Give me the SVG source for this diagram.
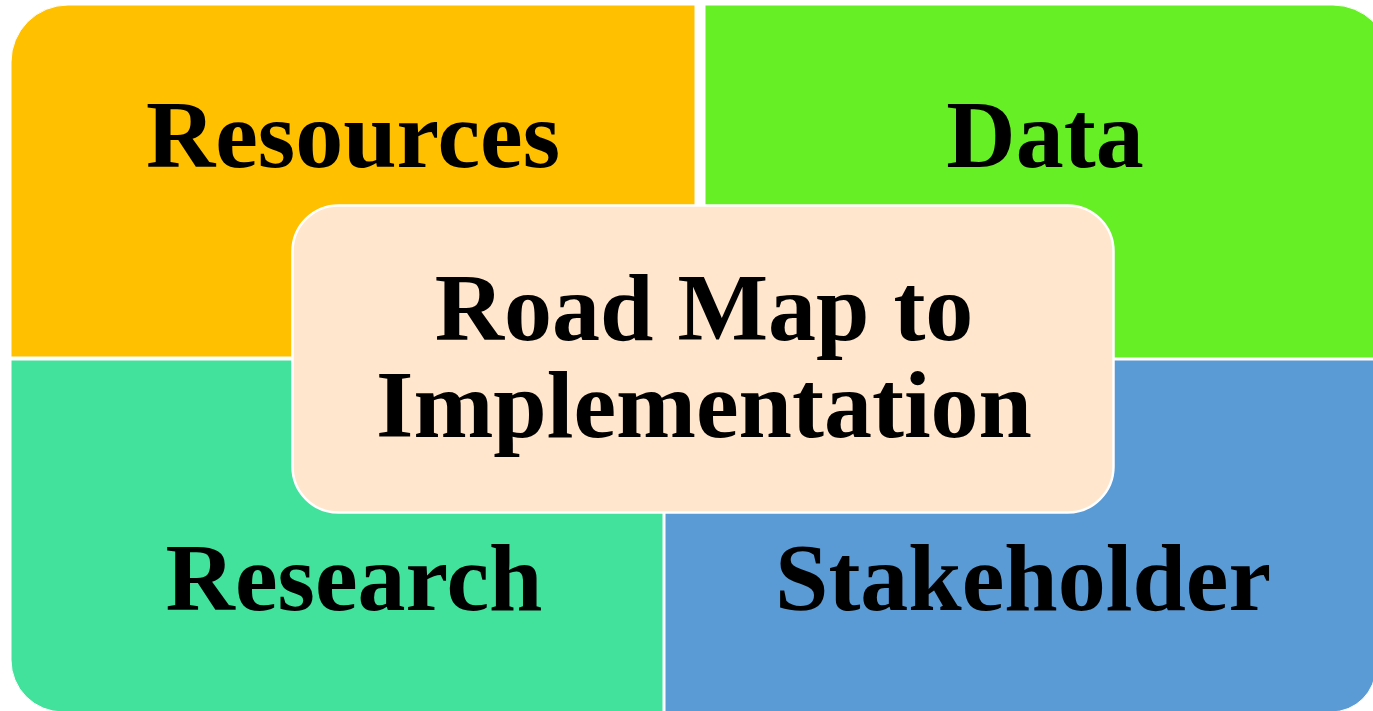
<svg xmlns="http://www.w3.org/2000/svg" width="1373" height="711" viewBox="0 0 1373 711">
<style>
.q{stroke:#ffffff;stroke-width:1}
.t{font-family:"Liberation Serif","Times New Roman",serif;font-weight:bold;font-size:96px;fill:#000000;text-anchor:middle}
</style>
<rect x="0" y="0" width="1373" height="711" fill="#ffffff"/>
<g id="resources">
<path class="q" fill="#FFC000" d="M11,62 A57,57 0 0 1 68,5 L695,5 L695,357 L11,357 Z"/>
<text class="t" x="353" y="167">Resources</text>
</g>
<g id="data">
<path class="q" fill="#67EF26" d="M705,5 L1333,5 A57,57 0 0 1 1390,62 L1390,358 L705,358 Z"/>
<text class="t" x="1045" y="167">Data</text>
</g>
<g id="research">
<path class="q" fill="#42E29C" d="M11,360 L663,360 L663,712 L63,712 A52,52 0 0 1 11,660 Z"/>
<text class="t" x="354" y="610">Research</text>
</g>
<g id="stakeholder">
<path class="q" fill="#5B9BD5" d="M665,360 L1376,360 L1376,667 A45,45 0 0 1 1331,712 L665,712 Z"/>
<text class="t" x="1023" y="610">Stakeholder</text>
</g>
<g id="center">
<rect x="292.5" y="205.5" width="821" height="307" rx="46" ry="46" fill="#FFE6CC" stroke="#ffffff" stroke-width="2.5"/>
<text class="t" x="704" y="340">Road Map to</text>
<text class="t" x="704" y="437">Implementation</text>
</g>
<g id="connectors"></g>
</svg>
